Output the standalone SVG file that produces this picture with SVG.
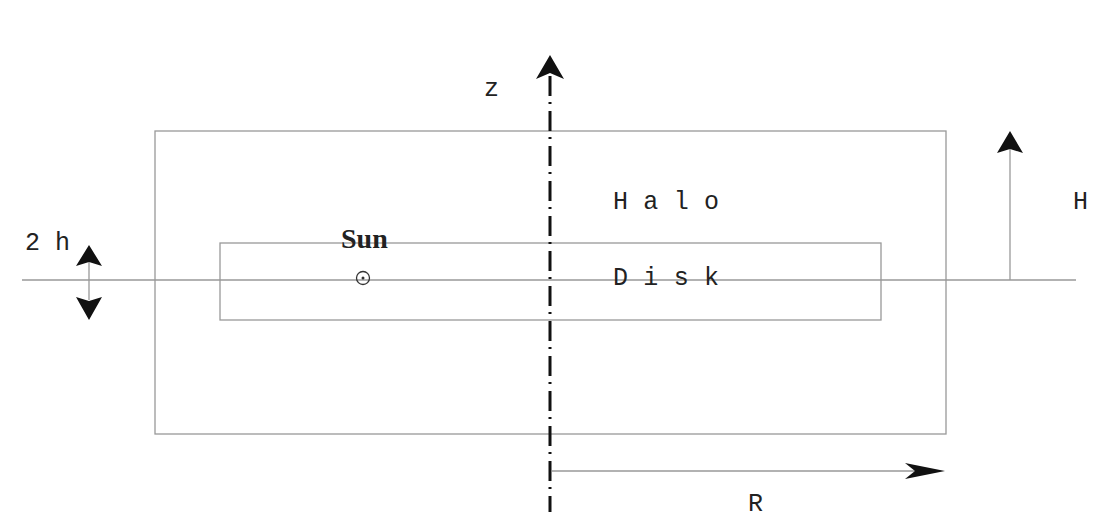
<svg xmlns="http://www.w3.org/2000/svg" width="1097" height="524" viewBox="0 0 1097 524">
<style>
.thin{stroke:#999;stroke-width:1.3;fill:none}
.mono{font-family:"Liberation Mono","Courier New",monospace;font-size:25px;fill:#222}
.ah{fill:#111}
</style>
<rect width="1097" height="524" fill="#fff"/>
<g id="outer-box"><rect class="thin" x="155" y="131" width="791" height="303"/></g>
<g id="disk-box"><rect class="thin" x="220" y="243" width="661" height="77"/></g>
<g id="connectors">
<line class="thin" x1="22" y1="280" x2="1076" y2="280"/>
<line x1="550" y1="76" x2="550" y2="512" stroke="#111" stroke-width="3" stroke-dasharray="20 6 2 7"/>
<polygon class="ah" points="550,55 564,79 550,73 536,79"/>
<line class="thin" x1="89" y1="262" x2="89" y2="300"/>
<polygon class="ah" points="89,245 102,266 89,262 76,266"/>
<polygon class="ah" points="89,320 102,297 89,301 76,297"/>
<line class="thin" x1="1010" y1="280" x2="1010" y2="148"/>
<polygon class="ah" points="1010,131 1023,153 1010,149 997,153"/>
<line class="thin" x1="552" y1="471" x2="915" y2="471"/>
<polygon class="ah" points="945,471 905,463 915,471 905,479"/>
</g>
<g id="labels">
<text class="mono" x="484" y="96" font-size="23">z</text>
<text class="mono" x="613" y="209" textLength="106">H a l o</text>
<text class="mono" x="613" y="285" textLength="106">D i s k</text>
<text class="mono" x="1073" y="209">H</text>
<text class="mono" x="748" y="511">R</text>
<text class="mono" x="25" y="250">2 h</text>
<text x="341" y="248" font-family="Liberation Serif,serif" font-weight="bold" font-size="28" fill="#222">Sun</text>
<circle cx="363" cy="278" r="6.5" fill="none" stroke="#333" stroke-width="1.3"/>
<circle cx="363" cy="278" r="1.5" fill="#333"/>
</g>
</svg>
